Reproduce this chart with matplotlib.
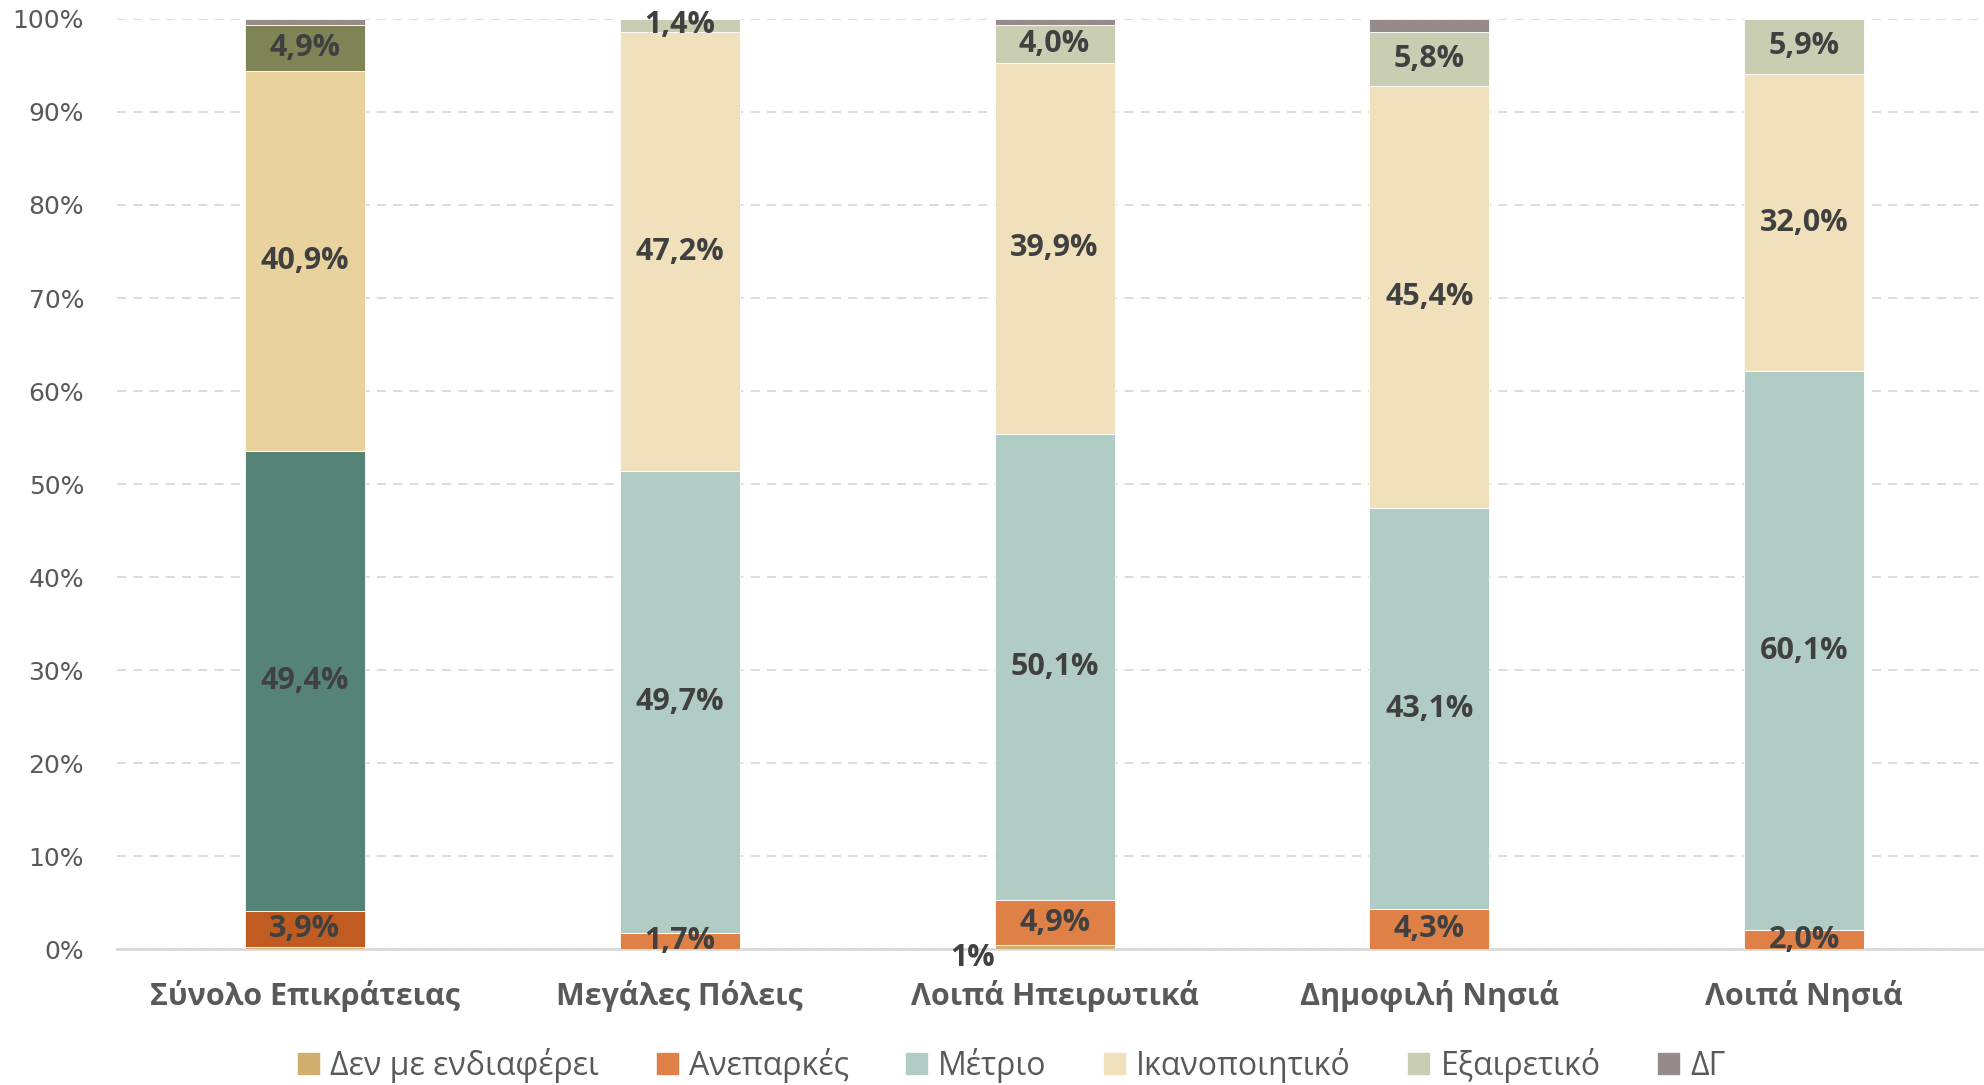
import matplotlib
matplotlib.use("Agg")
import matplotlib.pyplot as plt
import numpy as np

plt.rcParams['font.family'] = ['Open Sans', 'DejaVu Sans']

categories = ["Σύνολο Επικράτειας", "Μεγάλες Πόλεις", "Λοιπά Ηπειρωτικά",
              "Δημοφιλή Νησιά", "Λοιπά Νησιά"]
series = ["Δεν με ενδιαφέρει", "Ανεπαρκές", "Μέτριο", "Ικανοποιητικό",
          "Εξαιρετικό", "ΔΓ"]

den_me = [0.2, 0.0, 0.4, 0.0, 0.0]
aneparkes = [3.9, 1.7, 4.9, 4.3, 2.0]
metrio = [49.4, 49.7, 50.1, 43.1, 60.1]
ikanopoiitiko = [40.9, 47.2, 39.9, 45.4, 32.0]
exairetiko = [4.9, 1.4, 4.0, 5.8, 5.9]
dg = [0.7, 0.0, 0.7, 1.4, 0.0]

# the single small label for "Δεν με ενδιαφέρει"
den_me_labels = ["", "", "1%", "", ""]

colors = ["#CFAE6E", "#DF8047", "#B0CCC4", "#F0E1BC", "#C9CDB2", "#968B8B"]
colors_total = ["#CFAE6E", "#C05C22", "#568378", "#E8D29E", "#7F8457", "#968B8B"]

values = [den_me, aneparkes, metrio, ikanopoiitiko, exairetiko, dg]
labelled = [False, True, True, True, True, False]

fig = plt.figure(figsize=(19.84, 10.85), dpi=100)
ax = fig.add_axes([0.0592, 0.1253, 0.9447, 0.8572])

x = np.arange(len(categories))
width = 0.32
bottom = np.zeros(len(categories))
text_color = "#404040"

for s, vals in enumerate(values):
    vals = np.array(vals)
    cols = [colors_total[s] if i == 0 else colors[s] for i in range(len(categories))]
    ax.bar(x, vals, width, bottom=bottom, color=cols, edgecolor="white",
           linewidth=0.6, label=series[s], zorder=3)
    if labelled[s]:
        for i, v in enumerate(vals):
            if v > 0:
                ax.text(x[i], bottom[i] + v / 2, f"{v:.1f}%".replace(".", ","),
                        ha="center", va="center", fontsize=22, fontweight="bold",
                        color=text_color, zorder=4)
    bottom += vals

for i, lab in enumerate(den_me_labels):
    if lab:
        ax.text(x[i] - 0.22, -1.0, lab, ha="center", va="center", fontsize=22,
                fontweight="bold", color=text_color, zorder=4, clip_on=False)

ax.set_xlim(-0.5, len(categories) - 0.5)
ax.set_ylim(0, 100)
ax.set_yticks(np.arange(0, 101, 10))
ax.set_yticklabels([f"{t}%" for t in range(0, 101, 10)], family="DejaVu Sans",
                   fontsize=18, color="#595959")
ax.set_xticks(x)
ax.set_xticklabels(categories, fontsize=22, fontweight="bold", color="#595959")
ax.tick_params(axis="y", length=0, pad=24)
ax.tick_params(axis="x", length=0, pad=22)

ax.grid(axis="y", color="#D9D9D9", linestyle=(0, (5, 4)), linewidth=1.3, zorder=0)
for sp in ["top", "right", "left"]:
    ax.spines[sp].set_visible(False)
ax.spines["bottom"].set_color("#D9D9D9")
ax.spines["bottom"].set_linewidth(2)

handles = [plt.Rectangle((0, 0), 1, 1, color=c) for c in colors]
fig.legend(handles, series, loc="center", bbox_to_anchor=(0.51, 0.018), ncol=6,
           frameon=False, fontsize=23, labelcolor="#595959", handlelength=0.65,
           handleheight=0.65, handletextpad=0.35, columnspacing=1.8)

fig.savefig("out.png", dpi=100)
